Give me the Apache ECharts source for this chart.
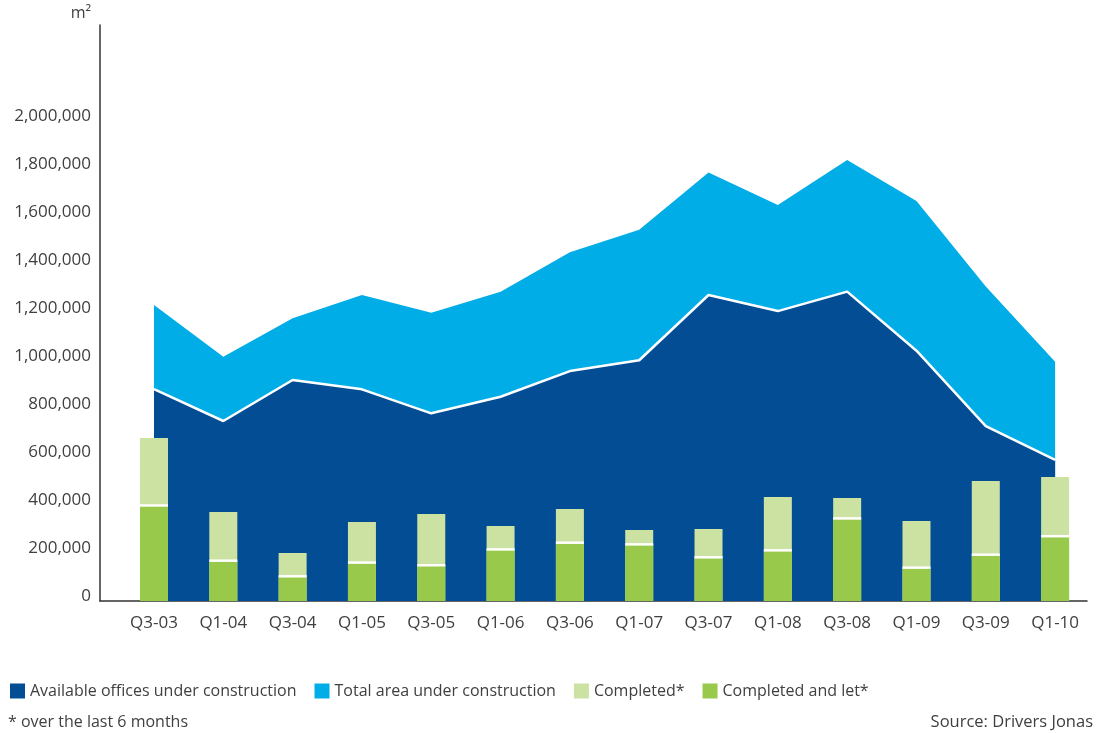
<!DOCTYPE html>
<html>
<head>
<meta charset="utf-8">
<script src="https://cdn.jsdelivr.net/npm/echarts@6/dist/echarts.min.js"></script>
<style>
  html, body { margin: 0; padding: 0; background: #ffffff; }
  #chart { width: 1103px; height: 733px; }
</style>
</head>
<body>
<div id="chart"></div>
<script>
// Office construction pipeline by half-year, in square metres
const quarters = ['Q3-03', 'Q1-04', 'Q3-04', 'Q1-05', 'Q3-05', 'Q1-06', 'Q3-06',
                  'Q1-07', 'Q3-07', 'Q1-08', 'Q3-08', 'Q1-09', 'Q3-09', 'Q1-10'];

const totalUnderConstruction = [1233000, 1018000, 1178000, 1275000, 1201000, 1289000, 1453000,
                                1547000, 1785000, 1650000, 1837000, 1667000, 1310000, 997000];

const availableUnderConstruction = [883000, 750000, 921000, 882000, 782000, 851000, 958000,
                                    1003000, 1275000, 1208000, 1289000, 1043000, 729000, 588000];

// completed over the last 6 months (whole bar) and the part of it already let
const completed = [679000, 371000, 200000, 329000, 362000, 312000, 383000,
                   296000, 300000, 433000, 429000, 333000, 500000, 517000];

const completedAndLet = [398000, 168000, 103000, 160000, 149000, 215000, 243000,
                         236000, 182000, 211000, 344000, 139000, 193000, 270000];

const yTicksShownUpTo = 2000000;

const C_DARK = '#034d94';
const C_LIGHT = '#00ade6';
const C_PALE = '#cce2a3';
const C_GREEN = '#99c94a';
const TEXT = '#404040';
const FONT = '"Open Sans", "Noto Sans", sans-serif';

const pairs = arr => arr.map((v, i) => [i, v]);
const BAR_W = 28;

const chart = echarts.init(document.getElementById('chart'), null, { renderer: 'canvas' });

chart.setOption({
  animation: false,
  backgroundColor: '#ffffff',
  textStyle: { fontFamily: FONT, color: TEXT },
  grid: { left: 100, right: 16, top: 25, bottom: 132, containLabel: false },
  xAxis: {
    type: 'value',
    min: -0.779,
    max: 13.46,
    splitLine: { show: false },
    axisTick: { show: false },
    axisLine: { show: true, onZero: false, lineStyle: { color: '#333333', width: 1.5 } },
    axisLabel: {
      customValues: quarters.map((q, i) => i),
      formatter: v => quarters[Math.round(v)] || '',
      color: TEXT,
      fontFamily: FONT,
      fontSize: 17,
      margin: 14
    }
  },
  yAxis: {
    type: 'value',
    min: 0,
    max: 2400000,
    interval: 200000,
    name: 'm²',
    nameLocation: 'end',
    nameGap: 4,
    nameTextStyle: { color: TEXT, fontFamily: FONT, fontSize: 16, align: 'right', padding: [0, 9, 0, 0] },
    splitLine: { show: false },
    axisTick: { show: false },
    axisLine: { show: true, onZero: false, lineStyle: { color: '#333333', width: 1.5 } },
    axisLabel: {
      color: TEXT,
      fontFamily: FONT,
      fontSize: 17,
      margin: 9,
      verticalAlign: 'bottom',
      lineHeight: 9,
      formatter: v => (v > yTicksShownUpTo ? '' : v.toLocaleString('en-US'))
    }
  },
  legend: {
    left: 10,
    top: 683,
    padding: 0,
    icon: 'rect',
    itemWidth: 15,
    itemHeight: 15,
    itemGap: 18,
    textStyle: { color: TEXT, fontFamily: FONT, fontSize: 16 },
    data: [
      { name: 'Available offices under construction', itemStyle: { color: C_DARK } },
      { name: 'Total area under construction', itemStyle: { color: C_LIGHT } },
      { name: 'Completed*', itemStyle: { color: C_PALE } },
      { name: 'Completed and let*', itemStyle: { color: C_GREEN } }
    ]
  },
  title: [
    {
      text: '* over the last 6 months',
      left: 8, top: 714,
      padding: 0,
      textStyle: { color: TEXT, fontFamily: FONT, fontSize: 16, fontWeight: 'normal' }
    },
    {
      text: 'Source: Drivers Jonas',
      right: 10, top: 714,
      padding: 0,
      textStyle: { color: TEXT, fontFamily: FONT, fontSize: 16.5, fontWeight: 'normal' }
    }
  ],
  series: [
    {
      name: 'Total area under construction',
      type: 'line',
      data: pairs(totalUnderConstruction),
      showSymbol: false,
      symbol: 'none',
      z: 1,
      lineStyle: { width: 0, color: C_LIGHT },
      itemStyle: { color: C_LIGHT },
      areaStyle: { color: C_LIGHT, opacity: 1 },
      silent: true
    },
    {
      name: 'Available offices under construction',
      type: 'line',
      data: pairs(availableUnderConstruction),
      showSymbol: false,
      symbol: 'none',
      z: 2,
      lineStyle: { width: 2.5, color: '#ffffff' },
      itemStyle: { color: C_DARK },
      areaStyle: { color: C_DARK, opacity: 1 },
      silent: true
    },
    {
      name: 'Completed*',
      type: 'bar',
      data: pairs(completed),
      barWidth: BAR_W,
      barGap: '-100%',
      z: 3,
      itemStyle: { color: C_PALE },
      silent: true
    },
    {
      name: 'Completed and let*',
      type: 'bar',
      data: pairs(completedAndLet),
      barWidth: BAR_W,
      barGap: '-100%',
      z: 4,
      itemStyle: { color: C_GREEN },
      silent: true
    },
    {
      // white divider on top of the let portion of each bar
      name: 'let-divider',
      type: 'custom',
      coordinateSystem: 'cartesian2d',
      data: pairs(completedAndLet),
      silent: true,
      z: 5,
      renderItem: (params, api) => {
        const p = api.coord([api.value(0), api.value(1)]);
        return {
          type: 'line',
          shape: { x1: p[0] - BAR_W / 2, y1: p[1], x2: p[0] + BAR_W / 2, y2: p[1] },
          style: { stroke: '#ffffff', lineWidth: 2.5 }
        };
      }
    }
  ]
});
</script>
</body>
</html>
